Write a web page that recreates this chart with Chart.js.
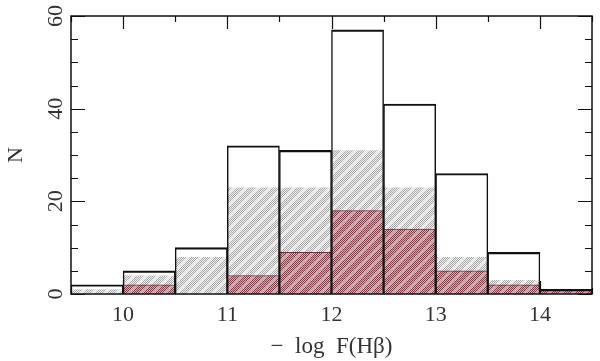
<!DOCTYPE html>
<html>
<head>
<meta charset="utf-8">
<script src="https://cdn.jsdelivr.net/npm/chart.js@4"></script>
<style>
  html, body { margin: 0; padding: 0; background: #fff; }
  canvas { display: block; }
</style>
</head>
<body>
<canvas id="chart" width="600" height="361"></canvas>
<script>
// bins of width 0.5 in -log F(Hbeta), given by their centres
const BIN_CENTERS = [9.75, 10.25, 10.75, 11.25, 11.75, 12.25, 12.75, 13.25, 13.75, 14.25];
const TOTAL = [2, 5, 10, 32, 31, 57, 41, 26, 9, 1];
const GREY = [1, 4, 8, 23, 23, 31, 23, 8, 3, 1];
const RED = [0, 2, 0, 4, 9, 18, 14, 5, 2, 1];
const Y_TICK_LABELS = [0, 20, 40, 60];

const FONT = 'Liberation Serif';

function hatch(bg, fg, band) {
  const c = document.createElement('canvas');
  c.width = 12;
  c.height = 12;
  const g = c.getContext('2d');
  g.fillStyle = bg;
  g.fillRect(0, 0, 12, 12);
  for (let x = 0; x < 12; x++) {
    for (let y = 0; y < 12; y++) {
      const d = (x + y) % 12;
      if ((x + y) % 2 === 0) {
        g.fillStyle = d < 3 ? band : fg;
        g.fillRect(x, y, 1, 1);
      }
    }
  }
  return g.createPattern(c, 'repeat');
}

const ctx = document.getElementById('chart').getContext('2d');
const greyFill = hatch('#f2f2f2', '#a8a8a8', '#e4e4e4');
const redFill = hatch('#d4b6ba', '#7c3a44', '#c09aa0');

const toPoints = arr => arr.map((v, i) => ({ x: BIN_CENTERS[i], y: v }));

// frame + inward ticks, like the old plotting package did
const frameTicks = {
  id: 'frameTicks',
  beforeDatasetsDraw(chart) {
    const { ctx, chartArea: a, scales } = chart;
    ctx.save();
    ctx.strokeStyle = '#111';
    ctx.lineWidth = 1.2;
    ctx.beginPath();
    scales.x.ticks.forEach(t => {
      const px = Math.round(scales.x.getPixelForValue(t.value)) + 0.5;
      const len = t.value % 1 === 0 ? 13 : 6;
      ctx.moveTo(px, a.bottom); ctx.lineTo(px, a.bottom - len);
      ctx.moveTo(px, a.top); ctx.lineTo(px, a.top + len);
    });
    scales.y.ticks.forEach(t => {
      const py = Math.round(scales.y.getPixelForValue(t.value)) + 0.5;
      const len = t.value % 20 === 0 ? 14 : 7;
      ctx.moveTo(a.left, py); ctx.lineTo(a.left + len, py);
      ctx.moveTo(a.right, py); ctx.lineTo(a.right - len, py);
    });
    ctx.stroke();
    ctx.restore();
  },
  afterDraw(chart) {
    const { ctx, chartArea: a, scales } = chart;
    ctx.save();
    ctx.strokeStyle = '#111';
    ctx.lineWidth = 1.5;
    ctx.strokeRect(a.left, a.top, a.right - a.left, a.bottom - a.top);
    // rotated y tick labels
    ctx.fillStyle = '#333';
    ctx.font = '22px "' + FONT + '"';
    ctx.textAlign = 'center';
    ctx.textBaseline = 'middle';
    Y_TICK_LABELS.forEach(v => {
      ctx.save();
      ctx.translate(56, scales.y.getPixelForValue(v));
      ctx.rotate(-Math.PI / 2);
      ctx.fillText(String(v), 0, 0);
      ctx.restore();
    });
    ctx.restore();
  }
};

const barShape = { barPercentage: 1, categoryPercentage: 1 };

new Chart(ctx, {
  type: 'bar',
  data: {
    datasets: [
      {
        label: 'all',
        data: toPoints(TOTAL),
        backgroundColor: 'rgba(0,0,0,0)',
        borderColor: '#111',
        // neighbouring bars share an edge, so half width on the sides
        borderWidth: { top: 1.5, left: 0.8, right: 0.8, bottom: 0 },
        borderSkipped: false,
        ...barShape
      },
      {
        label: 'red',
        data: toPoints(RED),
        backgroundColor: redFill,
        borderColor: '#6e3038',
        borderWidth: { top: 1, left: 0.5, right: 0.5, bottom: 0 },
        borderSkipped: false,
        ...barShape
      },
      {
        label: 'grey',
        data: toPoints(GREY),
        backgroundColor: greyFill,
        borderWidth: 0,
        inflateAmount: 0,
        ...barShape
      }
    ]
  },
  options: {
    responsive: false,
    animation: false,
    devicePixelRatio: 1,
    grouped: false,
    layout: {
      padding: { top: 16, right: 3, left: 0, bottom: 0 }
    },
    plugins: {
      legend: { display: false },
      tooltip: { enabled: false }
    },
    scales: {
      x: {
        type: 'linear',
        min: 9.5,
        max: 14.5,
        offset: false,
        grid: { display: false, drawTicks: false },
        border: { display: false },
        afterFit: s => { s.height = 67; },
        ticks: {
          stepSize: 0.5,
          autoSkip: false,
          maxRotation: 0,
          padding: 8,
          color: '#333',
          font: { family: FONT, size: 22 },
          callback: v => (v % 1 === 0 ? v : '')
        },
        title: {
          display: true,
          text: '−  log  F(Hβ)',
          color: '#333',
          font: { family: FONT, size: 23 },
          padding: { top: 0, bottom: 0 }
        }
      },
      y: {
        min: 0,
        max: 60,
        grid: { display: false, drawTicks: false },
        border: { display: false },
        afterFit: s => { s.width = 71; },
        ticks: {
          stepSize: 5,
          display: false
        },
        title: {
          display: true,
          text: 'N',
          color: '#333',
          font: { family: FONT, size: 22 },
          padding: { top: 3, bottom: 0 }
        }
      }
    }
  },
  plugins: [frameTicks]
});
</script>
</body>
</html>
